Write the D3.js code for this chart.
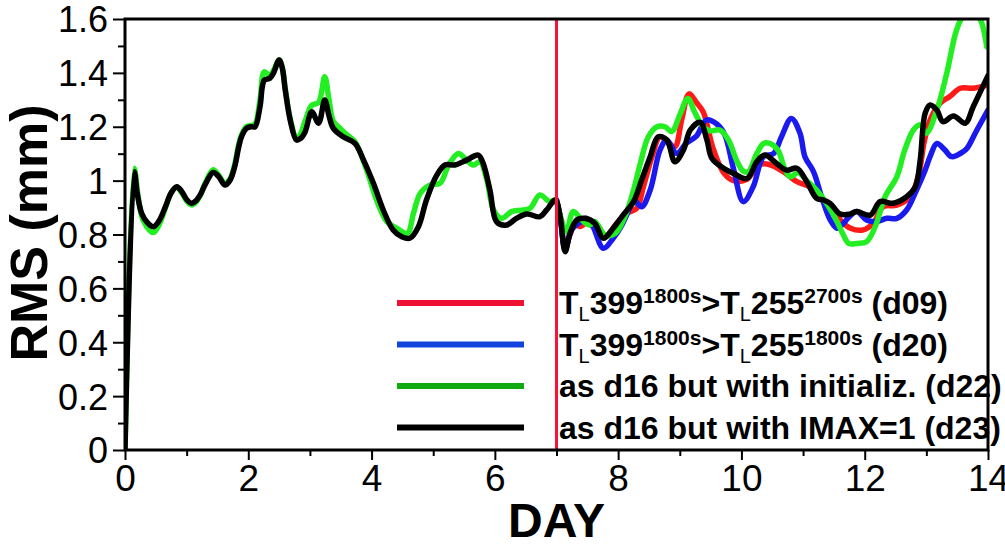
<!DOCTYPE html>
<html><head><meta charset="utf-8">
<script src="https://cdn.jsdelivr.net/npm/d3@7"></script>
<style>html,body{margin:0;padding:0;background:#fff;} svg{display:block;}</style>
</head><body>
<svg id="chart" width="1005" height="547"></svg>
<script>
// ---------------- DATA ----------------
const xTickValues = [0, 2, 4, 6, 8, 10, 12, 14];
const xTickLabels = ["0", "2", "4", "6", "8", "10", "12", "14"];
const yTickValues = [0, 0.2, 0.4, 0.6, 0.8, 1.0, 1.2, 1.4, 1.6];
const yTickLabels = ["0", "0.2", "0.4", "0.6", "0.8", "1", "1.2", "1.4", "1.6"];
const splitDay = 7;

const seriesNames = ["d09", "d20", "d22", "d23"];

const redDays = [7.0, 7.06, 7.14, 7.22, 7.3, 7.38, 7.49, 7.65, 7.79, 7.98, 8.14, 8.3, 8.41, 8.55, 8.68, 8.79, 8.92, 9.03, 9.15, 9.27, 9.38, 9.54, 9.71, 9.87, 10.09, 10.28, 10.45, 10.68, 10.9, 11.17, 11.33, 11.44, 11.6, 11.77, 11.98, 12.14, 12.3, 12.52, 12.74, 12.88, 12.96, 13.06, 13.22, 13.38, 13.55, 13.76, 14.0];
const redRMS = [0.928, 0.866, 0.745, 0.8, 0.835, 0.83, 0.842, 0.82, 0.792, 0.842, 0.879, 0.897, 0.977, 1.089, 1.163, 1.145, 1.126, 1.225, 1.322, 1.29, 1.255, 1.12, 1.03, 1.0, 1.005, 1.058, 1.06, 1.033, 0.996, 0.971, 0.928, 0.91, 0.854, 0.823, 0.817, 0.842, 0.903, 0.909, 0.94, 1.027, 1.138, 1.225, 1.287, 1.312, 1.343, 1.343, 1.355];

const blueDays = [7.0, 7.06, 7.14, 7.25, 7.41, 7.49, 7.59, 7.76, 7.92, 8.06, 8.19, 8.25, 8.38, 8.52, 8.68, 8.79, 8.95, 9.11, 9.27, 9.43, 9.6, 9.73, 9.87, 10.03, 10.19, 10.36, 10.52, 10.65, 10.81, 10.95, 11.03, 11.17, 11.3, 11.44, 11.55, 11.65, 11.75, 11.87, 12.03, 12.19, 12.36, 12.52, 12.68, 12.84, 12.98, 13.06, 13.17, 13.3, 13.41, 13.6, 13.66, 13.82, 14.0];
const blueRMS = [0.928, 0.866, 0.745, 0.82, 0.85, 0.86, 0.83, 0.749, 0.786, 0.835, 0.9, 0.93, 0.903, 0.965, 1.114, 1.151, 1.101, 1.14, 1.165, 1.225, 1.21, 1.17, 1.045, 0.922, 0.977, 1.09, 1.1, 1.163, 1.231, 1.176, 1.089, 1.033, 0.94, 0.854, 0.823, 0.84, 0.866, 0.885, 0.854, 0.848, 0.86, 0.86, 0.891, 0.965, 1.039, 1.089, 1.138, 1.114, 1.089, 1.108, 1.12, 1.188, 1.262];

const greenDays = [0, 0.15, 0.22, 0.3, 0.46, 0.55, 0.65, 0.75, 0.84, 0.92, 1.0, 1.08, 1.15, 1.22, 1.3, 1.43, 1.52, 1.62, 1.7, 1.78, 1.84, 1.89, 1.97, 2.05, 2.11, 2.19, 2.26, 2.35, 2.41, 2.5, 2.55, 2.6, 2.68, 2.78, 2.84, 2.92, 3.03, 3.14, 3.24, 3.31, 3.38, 3.49, 3.6, 3.73, 3.92, 4.08, 4.25, 4.41, 4.58, 4.68, 4.79, 4.95, 5.11, 5.25, 5.41, 5.54, 5.65, 5.76, 5.87, 5.98, 6.11, 6.27, 6.42, 6.57, 6.73, 6.89, 6.98, 7.06, 7.16, 7.27, 7.41, 7.54, 7.62, 7.79, 7.95, 8.11, 8.25, 8.36, 8.49, 8.63, 8.76, 8.87, 9.0, 9.13, 9.25, 9.38, 9.49, 9.65, 9.79, 9.92, 10.03, 10.11, 10.25, 10.36, 10.49, 10.6, 10.7, 10.79, 10.92, 11.06, 11.22, 11.38, 11.55, 11.65, 11.74, 11.87, 12.03, 12.17, 12.33, 12.52, 12.65, 12.79, 12.9, 13.0, 13.17, 13.33, 13.49, 13.6, 13.76, 13.87, 13.98];
const greenRMS = [0, 1.046, 0.93, 0.85, 0.807, 0.835, 0.895, 0.955, 0.975, 0.955, 0.925, 0.91, 0.92, 0.945, 0.99, 1.04, 1.02, 0.99, 1.005, 1.06, 1.13, 1.17, 1.2, 1.205, 1.21, 1.3, 1.404, 1.39, 1.41, 1.448, 1.42, 1.34, 1.23, 1.16, 1.17, 1.22, 1.28, 1.29, 1.386, 1.3, 1.22, 1.194, 1.17, 1.145, 1.039, 0.928, 0.847, 0.823, 0.804, 0.879, 0.953, 0.984, 0.99, 1.058, 1.101, 1.076, 1.058, 1.07, 1.002, 0.891, 0.86, 0.885, 0.89, 0.897, 0.947, 0.922, 0.928, 0.87, 0.81, 0.885, 0.854, 0.835, 0.848, 0.798, 0.804, 0.866, 0.965, 1.064, 1.163, 1.2, 1.2, 1.182, 1.244, 1.305, 1.25, 1.2, 1.185, 1.188, 1.151, 1.076, 1.035, 1.033, 1.101, 1.138, 1.135, 1.11, 1.046, 1.014, 1.03, 1.0, 0.965, 0.916, 0.848, 0.8, 0.767, 0.767, 0.773, 0.829, 0.94, 1.014, 1.114, 1.188, 1.207, 1.176, 1.262, 1.398, 1.559, 1.61, 1.62, 1.6, 1.497];

const blackDays = [0, 0.15, 0.2, 0.27, 0.36, 0.46, 0.55, 0.65, 0.75, 0.84, 0.92, 1.0, 1.08, 1.15, 1.22, 1.3, 1.43, 1.52, 1.62, 1.7, 1.78, 1.84, 1.89, 1.97, 2.05, 2.11, 2.19, 2.26, 2.35, 2.41, 2.5, 2.55, 2.6, 2.68, 2.78, 2.84, 2.92, 3.03, 3.14, 3.24, 3.31, 3.38, 3.54, 3.73, 3.87, 4.03, 4.19, 4.35, 4.49, 4.62, 4.76, 4.89, 5.06, 5.19, 5.35, 5.54, 5.73, 5.81, 5.92, 6.03, 6.19, 6.35, 6.52, 6.73, 6.84, 6.98, 7.06, 7.14, 7.22, 7.33, 7.46, 7.62, 7.76, 7.92, 8.08, 8.25, 8.38, 8.52, 8.65, 8.79, 8.92, 9.06, 9.17, 9.33, 9.44, 9.52, 9.71, 9.87, 10.09, 10.25, 10.38, 10.57, 10.73, 10.9, 11.06, 11.22, 11.33, 11.44, 11.6, 11.75, 11.87, 12.09, 12.25, 12.46, 12.68, 12.82, 12.9, 12.98, 13.06, 13.17, 13.27, 13.44, 13.63, 13.76, 14.0];
const blackRMS = [0, 1.033, 0.95, 0.879, 0.845, 0.829, 0.85, 0.9, 0.955, 0.977, 0.96, 0.93, 0.916, 0.925, 0.947, 0.985, 1.03, 1.015, 0.984, 1.0, 1.052, 1.12, 1.163, 1.194, 1.2, 1.2, 1.274, 1.373, 1.38, 1.4, 1.448, 1.42, 1.336, 1.225, 1.151, 1.155, 1.18, 1.256, 1.213, 1.299, 1.24, 1.194, 1.163, 1.138, 1.076, 0.99, 0.891, 0.817, 0.792, 0.786, 0.829, 0.928, 1.021, 1.058, 1.058, 1.076, 1.095, 1.064, 0.965, 0.847, 0.835, 0.86, 0.876, 0.866, 0.891, 0.928, 0.866, 0.736, 0.805, 0.854, 0.86, 0.842, 0.786, 0.823, 0.872, 0.922, 1.002, 1.089, 1.163, 1.151, 1.07, 1.114, 1.188, 1.216, 1.151, 1.083, 1.046, 1.027, 1.008, 1.07, 1.095, 1.064, 1.039, 1.046, 0.996, 0.934, 0.928, 0.915, 0.876, 0.875, 0.885, 0.872, 0.922, 0.916, 0.94, 0.977, 1.076, 1.25, 1.281, 1.262, 1.219, 1.24, 1.213, 1.274, 1.39];

const legendLabels = [
  [["T", "base"], ["L", "sub"], ["399", "base"], ["1800s", "sup"], [">", "base"], ["T", "base"], ["L", "sub"], ["255", "base"], ["2700s", "sup"], [" (d09)", "base"]],
  [["T", "base"], ["L", "sub"], ["399", "base"], ["1800s", "sup"], [">", "base"], ["T", "base"], ["L", "sub"], ["255", "base"], ["1800s", "sup"], [" (d20)", "base"]],
  [["as d16 but with initializ. (d22)", "base"]],
  [["as d16 but with IMAX=1 (d23)", "base"]]
];
const xTitle = "DAY";
const yTitle = "RMS (mm)";

// ---------------- STYLE / LAYOUT ----------------
const lineColors = ["#ff1a1a", "#1a1aee", "#22ee22", "#000000"];
const legendColors = ["#ee1133", "#1144dd", "#11aa11", "#000000"];
const margin = {left: 125, right: 17, top: 19, bottom: 97};
const W = 1005, H = 547;
const FONT = "'Liberation Sans', Arial, Helvetica, sans-serif";

const svg = d3.select("#chart");
const x = d3.scaleLinear().domain([0, 14]).range([margin.left, W - margin.right]);
const y = d3.scaleLinear().domain([0, 1.6]).range([H - margin.bottom, margin.top]);

svg.append("defs").append("clipPath").attr("id", "plotclip")
  .append("rect").attr("x", x(0)).attr("y", y(1.6)).attr("width", x(14) - x(0)).attr("height", y(0) - y(1.6));

const series = [
  {days: redDays, vals: redRMS},
  {days: blueDays, vals: blueRMS},
  {days: greenDays, vals: greenRMS},
  {days: blackDays, vals: blackRMS}
];

const line = d3.line().x(d => x(d[0])).y(d => y(d[1])).curve(d3.curveCatmullRom.alpha(0.5));
const gLines = svg.append("g").attr("clip-path", "url(#plotclip)");
series.forEach((s, i) => {
  const pts = s.days.map((d, k) => [d, s.vals[k]]);
  gLines.append("path").datum(pts).attr("d", line)
    .attr("fill", "none").attr("stroke", lineColors[i]).attr("stroke-width", 5.5)
    .attr("stroke-linejoin", "round").attr("stroke-linecap", "round");
});

// vertical split line
svg.append("line").attr("x1", x(splitDay)).attr("x2", x(splitDay))
  .attr("y1", y(1.6)).attr("y2", y(0)).attr("stroke", "#f5143c").attr("stroke-width", 3);

// legend
const legY0 = 303, legDY = 41.5;
const legend = svg.append("g");
legendLabels.forEach((parts, i) => {
  const ly = legY0 + i * legDY;
  legend.append("line").attr("x1", 397).attr("x2", 524).attr("y1", ly).attr("y2", ly)
    .attr("stroke", legendColors[i]).attr("stroke-width", 6);
  const t = legend.append("text").attr("x", 559).attr("y", ly + 11)
    .attr("font-family", FONT).attr("font-weight", "bold").attr("font-size", 32).attr("fill", "#000");
  let shift = 0;
  parts.forEach(([txt, kind]) => {
    const target = kind === "sub" ? 7 : (kind === "sup" ? -11 : 0);
    const ts = t.append("tspan").text(txt).attr("dy", target - shift);
    if (kind === "sub") ts.attr("font-size", 20).attr("font-weight", "normal");
    if (kind === "sup") ts.attr("font-size", 21);
    shift = target;
  });
});

// axes
const yAxis = d3.axisLeft(y).tickValues(yTickValues).tickFormat((d, i) => yTickLabels[i]).tickSize(12).tickPadding(5);
const gy = svg.append("g").attr("transform", `translate(${x(0)},0)`).call(yAxis);
gy.select(".domain").remove();
gy.selectAll("text").attr("font-family", FONT).attr("font-size", 36).attr("fill", "#000").attr("dy", "0.36em");
gy.selectAll("line").attr("stroke", "#000").attr("stroke-width", 2);
const yMinor = d3.range(0.1, 1.6, 0.2);
svg.append("g").attr("transform", `translate(${x(0)},0)`)
  .call(d3.axisLeft(y).tickValues(yMinor).tickFormat("").tickSize(7))
  .call(g => g.select(".domain").remove())
  .selectAll("line").attr("stroke", "#000").attr("stroke-width", 2);

const xAxis = d3.axisBottom(x).tickValues(xTickValues).tickFormat((d, i) => xTickLabels[i]).tickSize(10).tickPadding(4);
const gx = svg.append("g").attr("transform", `translate(0,${y(0)})`).call(xAxis);
gx.select(".domain").remove();
gx.selectAll("text").attr("font-family", FONT).attr("font-size", 37).attr("fill", "#000").attr("dy", "0.72em");
gx.selectAll("line").attr("stroke", "#000").attr("stroke-width", 2);
const xMinor = d3.range(1, 14, 2);
svg.append("g").attr("transform", `translate(0,${y(0)})`)
  .call(d3.axisBottom(x).tickValues(xMinor).tickFormat("").tickSize(6))
  .call(g => g.select(".domain").remove())
  .selectAll("line").attr("stroke", "#000").attr("stroke-width", 2);

// frame
svg.append("rect").attr("x", x(0)).attr("y", y(1.6)).attr("width", x(14) - x(0)).attr("height", y(0) - y(1.6))
  .attr("fill", "none").attr("stroke", "#000").attr("stroke-width", 3);

// titles
svg.append("text").attr("x", (x(0) + x(14)) / 2).attr("y", 537).attr("text-anchor", "middle")
  .attr("font-family", FONT).attr("font-weight", "bold").attr("font-size", 48).text(xTitle);
svg.append("text").attr("transform", `translate(47,233) rotate(-90)`).attr("text-anchor", "middle")
  .attr("font-family", FONT).attr("font-weight", "bold").attr("font-size", 52).text(yTitle);
</script>
</body></html>
